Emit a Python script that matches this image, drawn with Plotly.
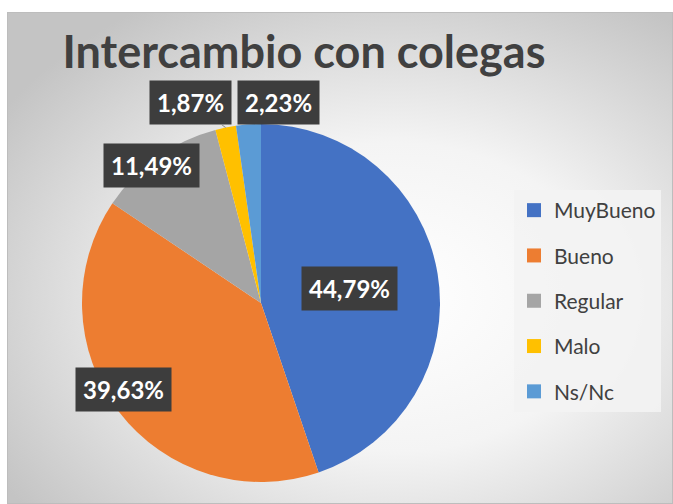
import math, base64
import plotly.graph_objects as go

categories = ["MuyBueno", "Bueno", "Regular", "Malo", "Ns/Nc"]
values = [44.79, 39.63, 11.49, 1.87, 2.23]
labels_txt = ["44,79%", "39,63%", "11,49%", "1,87%", "2,23%"]
colors = ["#4472C4", "#ED7D31", "#A5A5A5", "#FFC000", "#5B9BD5"]
title_text = "Intercambio con colegas"

W, H = 673, 504
# pie geometry (pixels)
CX, CY, R = 261, 303, 179
dom_x = [(CX - R) / W, (CX + R) / W]
dom_y = [1 - (CY + R) / H, 1 - (CY - R) / H]

# background gradient as an svg image
svg = f'''<svg xmlns="http://www.w3.org/2000/svg" width="666" height="492">
<defs><radialGradient id="g" cx="58%" cy="58%" r="70%">
<stop offset="0%" stop-color="#ffffff"/><stop offset="45%" stop-color="#f4f4f4"/><stop offset="100%" stop-color="#c4c4c4"/>
</radialGradient></defs>
<rect x="0.5" y="0.5" width="665" height="491" fill="url(#g)" stroke="#bdbdbd" stroke-width="1"/></svg>'''
src = "data:image/svg+xml;base64," + base64.b64encode(svg.encode()).decode()

fig = go.Figure()
fig.add_trace(go.Pie(
    labels=categories, values=values, sort=False, direction="clockwise", rotation=0,
    marker=dict(colors=colors, line=dict(width=0)), textinfo="none",
    showlegend=False, domain=dict(x=dom_x, y=dom_y), hoverinfo="label+percent"))

# legend via dummy traces
for c, col in zip(categories, colors):
    fig.add_trace(go.Scatter(x=[None], y=[None], mode="markers", name=c, legendgroup=c,
                             marker=dict(symbol="square", size=14, color=col)))

# label placement per slice: (radial factor, shift x, shift y, arrow)
place = [(0.48, 4, 0, False), (0.93, -5, 15, False), (0.99, -7, -7, False),
         (1.0, -35, -25, True), (1.0, 30, -22, True)]
total = sum(values)
cum = 0
for v, t, (f, sx, sy, arrow) in zip(values, labels_txt, place):
    mid = (cum + v / 2) / total * 2 * math.pi
    cum += v
    dx, dy = math.sin(mid), math.cos(mid)
    common = dict(text=t, xref="paper", yref="paper", bgcolor="#3d3d3d",
                  font=dict(family="Lato", size=24, color="white", weight="bold"),
                  borderpad=7)
    if arrow:
        px_, py_ = CX + dx * R, CY - dy * R
        fig.add_annotation(x=px_ / W, y=1 - py_ / H, showarrow=True, arrowhead=0,
                           arrowcolor="#8c8c8c", arrowwidth=1, ax=sx, ay=sy, **common)
    else:
        px_, py_ = CX + dx * R * f, CY - dy * R * f
        fig.add_annotation(x=px_ / W, y=1 - py_ / H, showarrow=False,
                           xshift=sx, yshift=sy,
                           xanchor="center", yanchor="middle", **common)

fig.update_layout(
    width=W, height=H, margin=dict(l=0, r=0, t=0, b=0),
    paper_bgcolor="white", plot_bgcolor="rgba(0,0,0,0)",
    xaxis=dict(visible=False), yaxis=dict(visible=False),
    title=dict(text=title_text, x=304 / W, xanchor="center", y=1 - 52 / H, yanchor="middle",
               font=dict(family="Lato", size=45, color="#404040", weight="bold")),
    legend=dict(x=514 / W, y=1 - 190 / H, xanchor="left", yanchor="top",
                bgcolor="rgba(243,243,243,0.9)", tracegroupgap=15,
                font=dict(family="Lato", size=21, color="#404040"),
                itemwidth=30),
    images=[dict(source=src, xref="paper", yref="paper", x=7 / W, y=1 - 12 / H,
                 sizex=666 / W, sizey=492 / H, sizing="stretch", layer="below",
                 xanchor="left", yanchor="top")],
)
fig.write_html("out.html", config={"displayModeBar": False},
               post_script="document.body.style.margin='0';document.body.style.overflow='hidden';")
